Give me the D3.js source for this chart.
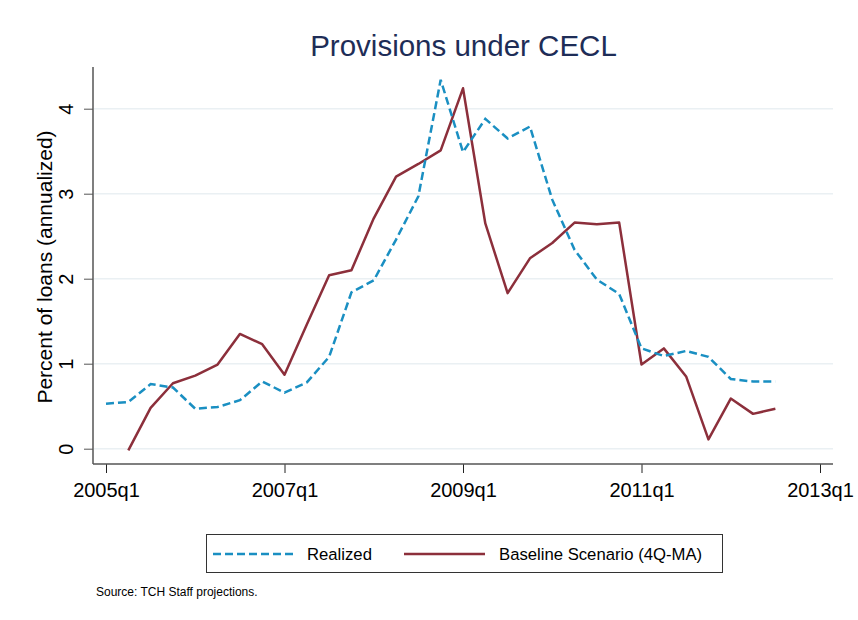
<!DOCTYPE html>
<html>
<head>
<meta charset="utf-8">
<script src="https://cdn.jsdelivr.net/npm/d3@7"></script>
<style>
  body { margin: 0; background: #fff; }
  text { font-family: "Liberation Sans", Arial, sans-serif; }
</style>
</head>
<body>
<div id="chart"></div>
<script>
// quarters from 2005q1 to 2012q3
const quarters = d3.range(0, 31).map(i => `${2005 + Math.floor(i / 4)}q${(i % 4) + 1}`);

const realized = [0.53, 0.55, 0.76, 0.72, 0.47, 0.49, 0.57, 0.79, 0.66, 0.78, 1.08,
  1.84, 1.98, 2.46, 2.97, 4.34, 3.49, 3.88, 3.65, 3.79, 2.93, 2.34, 1.99, 1.82,
  1.18, 1.09, 1.15, 1.08, 0.82, 0.79, 0.79];

const baseline = [null, -0.02, 0.48, 0.77, 0.86, 0.99, 1.35, 1.23, 0.87, 1.46, 2.04,
  2.10, 2.71, 3.20, 3.35, 3.51, 4.24, 2.65, 1.83, 2.24, 2.42, 2.66, 2.64, 2.66,
  0.99, 1.18, 0.85, 0.11, 0.59, 0.41, 0.47];

const xTicks = ['2005q1', '2007q1', '2009q1', '2011q1', '2013q1'];
const yTicks = [0, 1, 2, 3, 4];

const width = 858;
const height = 620;
const plot = { left: 93, right: 833, top: 67, bottom: 464 };

const svg = d3.select('#chart')
  .append('svg')
  .attr('width', width)
  .attr('height', height);

// quarter index -> x
const qIndex = q => (+q.slice(0, 4) - 2005) * 4 + (+q.slice(5) - 1);

const xScale = d3.scaleLinear()
  .domain([0, 32])
  .range([106, 820]);

const yScale = d3.scaleLinear()
  .domain([0, 4])
  .range([448.7, 108.7]);

// gridlines
svg.append('g')
  .selectAll('line')
  .data(yTicks)
  .enter().append('line')
  .attr('x1', plot.left + 1)
  .attr('x2', plot.right)
  .attr('y1', d => yScale(d))
  .attr('y2', d => yScale(d))
  .attr('stroke', '#eaf0f3')
  .attr('stroke-width', 1.5);

// Y axis
const yAxis = svg.append('g')
  .attr('transform', `translate(${plot.left}, 0)`)
  .call(d3.axisLeft(yScale).tickValues(yTicks).tickSize(9).tickPadding(0).tickFormat(d3.format('d')));
yAxis.select('.domain').remove();
yAxis.selectAll('.tick line').attr('stroke', '#555');
yAxis.selectAll('.tick text')
  .attr('x', null).attr('dy', null)
  .attr('transform', 'translate(-20, 0) rotate(-90)')
  .attr('text-anchor', 'middle')
  .attr('fill', '#000')
  .style('font-size', '20px');

// X axis
const xAxis = svg.append('g')
  .attr('transform', `translate(0, ${plot.bottom})`)
  .call(d3.axisBottom(xScale)
    .tickValues(xTicks.map(qIndex))
    .tickSize(9)
    .tickPadding(10)
    .tickFormat(d => quarters[d] || xTicks[xTicks.length - 1]));
xAxis.select('.domain').remove();
xAxis.selectAll('.tick line').attr('stroke', '#222');
xAxis.selectAll('.tick text')
  .attr('fill', '#000')
  .style('font-size', '20px');

// axis lines
svg.append('line')
  .attr('x1', plot.left).attr('x2', plot.left)
  .attr('y1', plot.top).attr('y2', plot.bottom)
  .attr('stroke', '#555').attr('stroke-width', 1.5);
svg.append('line')
  .attr('x1', plot.left).attr('x2', plot.right)
  .attr('y1', plot.bottom).attr('y2', plot.bottom)
  .attr('stroke', '#555').attr('stroke-width', 1.5);

// lines
const line = d3.line()
  .defined(d => d[1] !== null)
  .x(d => xScale(d[0]))
  .y(d => yScale(d[1]));

svg.append('path')
  .datum(baseline.map((v, i) => [i, v]))
  .attr('fill', 'none')
  .attr('stroke', '#8c2f3b')
  .attr('stroke-width', 2.5)
  .attr('stroke-linejoin', 'round')
  .attr('d', line);

svg.append('path')
  .datum(realized.map((v, i) => [i, v]))
  .attr('fill', 'none')
  .attr('stroke', '#1a8fc2')
  .attr('stroke-width', 2.5)
  .attr('stroke-dasharray', '8,4')
  .attr('d', line);

// title
svg.append('text')
  .attr('x', 463.5)
  .attr('y', 56)
  .attr('text-anchor', 'middle')
  .attr('fill', '#1e2d57')
  .style('font-size', '29.5px')
  .text('Provisions under CECL');

// y label
svg.append('text')
  .attr('transform', 'translate(52, 267) rotate(-90)')
  .attr('text-anchor', 'middle')
  .attr('fill', '#000')
  .style('font-size', '21px')
  .text('Percent of loans (annualized)');

// legend
const legend = svg.append('g');
legend.append('rect')
  .attr('x', 206.5).attr('y', 534.5)
  .attr('width', 516).attr('height', 38)
  .attr('fill', '#fff')
  .attr('stroke', '#333')
  .attr('stroke-width', 1);

legend.append('line')
  .attr('x1', 213).attr('x2', 295)
  .attr('y1', 554).attr('y2', 554)
  .attr('stroke', '#1a8fc2').attr('stroke-width', 2.5)
  .attr('stroke-dasharray', '8,4');
legend.append('text')
  .attr('x', 307).attr('y', 560)
  .style('font-size', '16.7px')
  .text('Realized');

legend.append('line')
  .attr('x1', 404).attr('x2', 485)
  .attr('y1', 554).attr('y2', 554)
  .attr('stroke', '#8c2f3b').attr('stroke-width', 2.5);
legend.append('text')
  .attr('x', 499).attr('y', 560)
  .style('font-size', '16.7px')
  .text('Baseline Scenario (4Q-MA)');

// source
svg.append('text')
  .attr('x', 96).attr('y', 596)
  .style('font-size', '12px')
  .text('Source: TCH Staff projections.');
</script>
</body>
</html>
